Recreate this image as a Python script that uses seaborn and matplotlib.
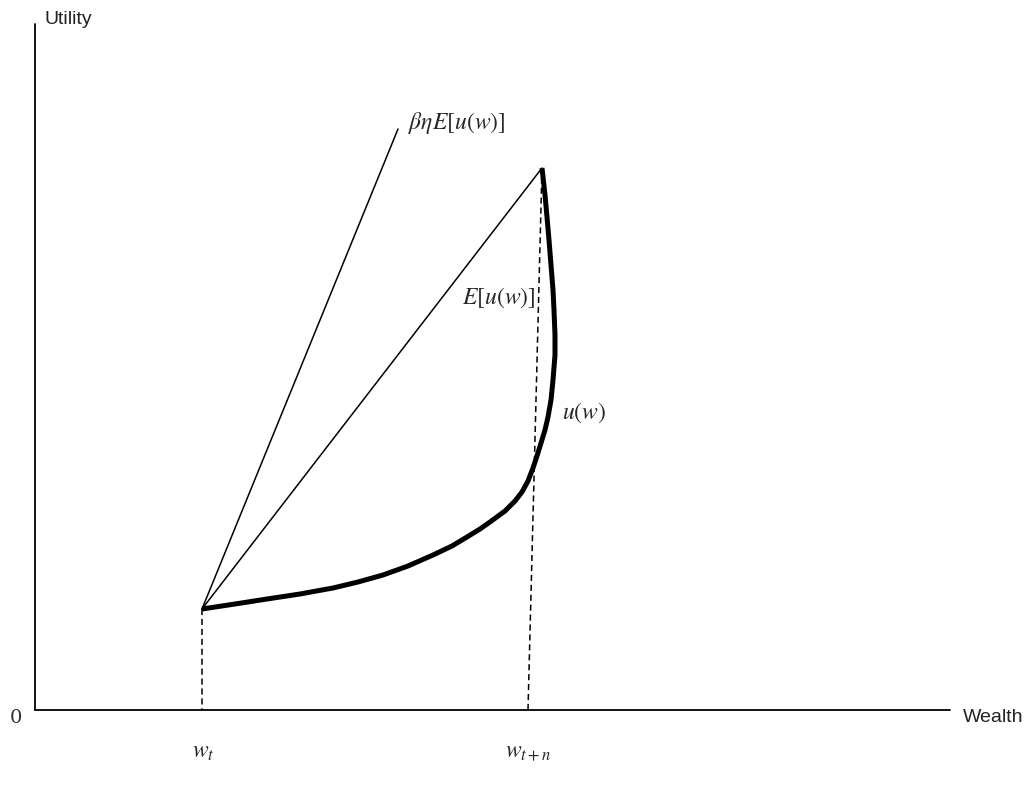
import pandas as pd
import matplotlib.pyplot as plt
import seaborn as sns

# utility curve u(w) (wealth, utility from the origin)
curve_wealth = [167, 200, 232, 265, 298, 323, 348, 373, 398, 417, 432, 445, 455, 470, 480,
                487, 493, 498, 502, 506, 510, 513, 516, 518, 520, 520, 519, 518, 516, 514,
                512, 510, 507]
curve_utility = [101, 106, 111, 116, 122, 128, 135, 144, 155, 164, 173, 181, 188, 199, 209,
                 218, 229, 242, 254, 267, 280, 293, 310, 330, 355, 375, 400, 420, 445, 470,
                 493, 515, 542]

# straight lines out of the starting point
expected_wealth = [167, 507]
expected_utility = [101, 542]
beta_wealth = [167, 363]
beta_utility = [101, 581]

# dashed drop lines to the wealth axis
drop_t_wealth = [167, 167]
drop_t_utility = [101, 0]
drop_n_wealth = [493, 507]
drop_n_utility = [0, 542]

# axes extent
axis_x = [0, 915]
axis_y = [0, 686]

sns.set_style("white")
plt.rcParams["mathtext.fontset"] = "stix"
plt.rcParams["font.family"] = ["Liberation Sans", "DejaVu Sans"]

fig = plt.figure(figsize=(10.31, 7.85), dpi=100)
ax = fig.add_axes([0, 0, 1, 1])

curve = pd.DataFrame({"wealth": curve_wealth, "utility": curve_utility})
sns.lineplot(data=curve, x="wealth", y="utility", sort=False, estimator=None, color="black",
             lw=3.6, ax=ax, solid_joinstyle="round", solid_capstyle="butt")
sns.lineplot(x=expected_wealth, y=expected_utility, sort=False, estimator=None,
             color="black", lw=1.1, ax=ax)
sns.lineplot(x=beta_wealth, y=beta_utility, sort=False, estimator=None,
             color="black", lw=1.1, ax=ax)
sns.lineplot(x=drop_t_wealth, y=drop_t_utility, sort=False, estimator=None, color="black",
             lw=1.1, ax=ax, linestyle=(0, (4, 2.5)))
sns.lineplot(x=drop_n_wealth, y=drop_n_utility, sort=False, estimator=None, color="black",
             lw=1.1, ax=ax, linestyle=(0, (4, 2.5)))

# hand-drawn axes
ax.plot(axis_x, [0, 0], color="black", lw=1.3)
ax.plot([0, 0], axis_y, color="black", lw=1.3)

ax.text(10, 690, "Utility", fontsize=14, color="#222222", va="center", ha="left")
ax.text(928, -8, "Wealth", fontsize=14, color="#222222", va="center", ha="left")
ax.text(-19, -8, "0", fontsize=14, family="DejaVu Serif", va="center", ha="center", color="#333333")

ax.text(373, 587, r"$\beta\eta E[u(w)]$", fontsize=17, va="center", ha="left")
ax.text(427, 412, r"$E[u(w)]$", fontsize=17, va="center", ha="left")
ax.text(527, 297, r"$u(w)$", fontsize=17, va="center", ha="left")
ax.text(168, -42, r"$w_t$", fontsize=17, va="center", ha="center")
ax.text(493, -42, r"$w_{t+n}$", fontsize=17, va="center", ha="center")

ax.set_xlim(-35, 996)
ax.set_ylim(-75, 710)
ax.axis("off")

fig.savefig("out.png", dpi=100)
